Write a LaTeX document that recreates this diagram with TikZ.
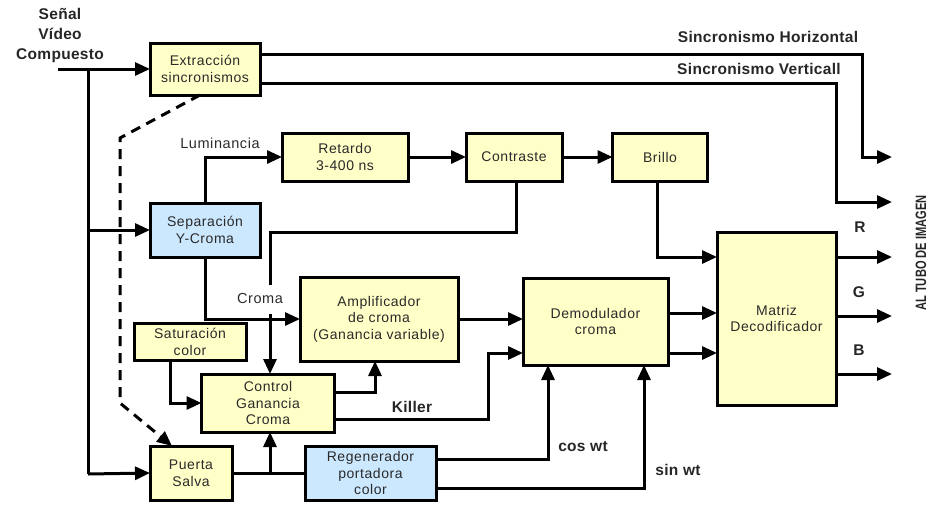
\documentclass[tikz,border=0pt]{standalone}
\usepackage{fontspec}
\setmainfont{Liberation Sans}
\newfontfamily\boxfont[LetterSpace=4]{Liberation Sans}
\newfontfamily\lblfont[LetterSpace=2]{Liberation Sans}
\usetikzlibrary{arrows.meta}
\definecolor{boxy}{HTML}{FFFFC8}
\definecolor{boxb}{HTML}{CCE8FF}
\definecolor{txt}{HTML}{2A2A2A}
\begin{document}
\begin{tikzpicture}[x=1pt,y=-1pt,
  blk/.style={draw=black,line width=3pt,fill=boxy,inner sep=0pt,outer sep=0pt,
    align=center,text=txt,font=\boxfont\fontsize{14}{16.5}\selectfont},
  blu/.style={blk,fill=boxb},
  wire/.style={line width=3pt},
  arr/.style={wire,-{Triangle[length=15pt,width=13pt]}},
  lbl/.style={inner sep=0pt,font=\lblfont\fontsize{15.5}{20}\selectfont\bfseries,text=black!85},
  lbr/.style={inner sep=0pt,font=\boxfont\fontsize{14.5}{18}\selectfont,text=txt}]
\useasboundingbox (0,0) rectangle (929,504);
% blocks
\node[blk,minimum width=110,minimum height=52] (ext) at (205,69) {Extracción\\sincronismos};
\node[blu,minimum width=110,minimum height=54] (sep) at (205,230) {Separación\\Y-Croma};
\node[blk,minimum width=126,minimum height=48] (ret) at (345,157) {Retardo\\3-400 ns};
\node[blk,minimum width=96,minimum height=48] (con) at (514,157) {Contraste};
\node[blk,minimum width=95,minimum height=48] (bri) at (660,157) {Brillo};
\node[blk,minimum width=158,minimum height=84] (amp) at (379,319) {Amplificador\\de croma\\(Ganancia variable)};
\node[blk,minimum width=112,minimum height=37] (sat) at (190,342) {Saturación\\color};
\node[blk,minimum width=133,minimum height=58] (ctl) at (268,403) {Control\\Ganancia\\Croma};
\node[blk,minimum width=82,minimum height=54] (pue) at (191,473) {Puerta\\Salva};
\node[blu,minimum width=131,minimum height=54] (reg) at (370.5,473) {Regenerador\\portadora\\color};
\node[blk,minimum width=145,minimum height=87] (dem) at (595.5,321.5) {Demodulador\\croma};
\node[blk,minimum width=119,minimum height=173] (mat) at (776.5,318.5) {Matriz\\Decodificador};
% labels
\node[lbl,align=center] (senal) at (60,35) {Señal\\Vídeo\\Compuesto};
\node[lbl] (lh) at (768,37) {Sincronismo Horizontal};
\node[lbl] (lv) at (759,69) {Sincronismo Verticall};
\node[lbr] (llum) at (220,143) {Luminancia};
\node[lbr] (lcro) at (260,299) {Croma};
\node[lbl] (lkil) at (412,407) {Killer};
\node[lbl] (lcos) at (583,447) {cos wt};
\node[lbl] (lsin) at (678,470) {sin wt};
\node[lbl] (lr) at (860,227) {R};
\node[lbl] (lg) at (859,292) {G};
\node[lbl] (lb) at (859,350) {B};
\node[rotate=90,inner sep=0pt,font=\fontsize{15}{15}\selectfont\bfseries,text=black!85] (tubo) at (921,253) {\scalebox{0.74}[1]{AL TUBO DE IMAGEN}};
% coordinates
\coordinate (in) at (58,69);
\coordinate (j1) at (88,69);
\coordinate (outH) at (892,157);
\coordinate (outV) at (892,202);
\coordinate (outR) at (892,257);
\coordinate (outG) at (892,316);
\coordinate (outB) at (892,374);
% input distribution
\draw[arr] (in) -- (ext.west);
\draw[wire] (j1) -- (88,474);
\draw[arr] (88,474) -- (pue.west);
\draw[arr] (88,230) -- (sep.west);
% sync outputs
\draw[arr] (ext.east |- 0,54) -| (862,157) -- (outH);
\draw[arr] (ext.east |- 0,83) -| (836,202) -- (outV);
% dashed
\draw[wire,dash pattern=on 10pt off 7pt,-{Triangle[length=15pt,width=13pt]}]
  ([xshift=-5pt]ext.south) -- (120,138) -- (120,403) -- ([xshift=-19pt]pue.north);
% luminance chain
\draw[arr] (sep.north) |- (ret.west);
\draw[arr] (ret) -- (con);
\draw[arr] (con) -- (bri);
\draw[arr] (bri.south -| 657,0) |- (mat.west |- outR);
% contrast to control
\draw[wire] ([xshift=2pt]con.south) |- (270,232) -- (270,285);
\draw[arr] (270,314) -- (ctl.north -| 270,0);
% croma
\draw[arr] (sep.south) |- (amp.west);
\draw[arr] (amp.east) -- (amp.east -| dem.west);
% saturation
\draw[arr] (sat.south -| 170,0) |- (ctl.west);
% control outputs
\draw[arr] (ctl.east |- 0,392) -| (amp.south -| 375,0);
\draw[arr] (ctl.east |- 0,419) -| (488,353) -- (dem.west |- 0,353);
% puerta salva
\draw[wire] (pue.east) -- (reg.west);
\draw[arr] (270,474) -- (ctl.south -| 270,0);
% regenerator
\draw[arr] (reg.east |- 0,459) -| (dem.south -| 548,0);
\draw[arr] (reg.east |- 0,488) -| (dem.south -| 644,0);
% demod to matrix
\draw[arr] (dem.east |- 0,313) -- (mat.west |- 0,313);
\draw[arr] (dem.east |- 0,353) -- (mat.west |- 0,353);
% matrix outputs
\draw[arr] (mat.east |- outR) -- (outR);
\draw[arr] (mat.east |- outG) -- (outG);
\draw[arr] (mat.east |- outB) -- (outB);
\end{tikzpicture}
\end{document}
